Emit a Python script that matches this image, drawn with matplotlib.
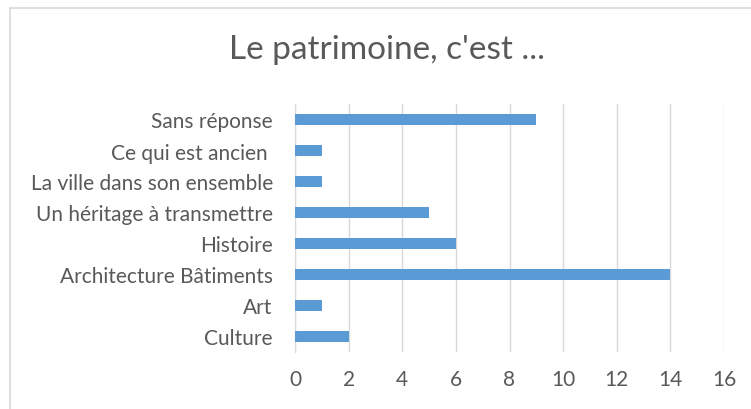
import matplotlib
matplotlib.use('Agg')
import matplotlib.pyplot as plt
from matplotlib.lines import Line2D

categories = ['Culture', 'Art', 'Architecture Bâtiments', 'Histoire',
              'Un héritage à transmettre', 'La ville dans son ensemble',
              'Ce qui est ancien ', 'Sans réponse']
values = [2, 1, 14, 6, 5, 1, 1, 9]
xticks = [0, 2, 4, 6, 8, 10, 12, 14, 16]

plt.rcParams['font.family'] = ['Lato', 'DejaVu Sans']
text_color = '#595959'

fig = plt.figure(figsize=(7.51, 4.10), dpi=100)
ax = fig.add_axes([295 / 751, 1 - 353 / 410, (724 - 295) / 751, (353 - 105) / 410])

ypos = list(range(len(categories)))
ax.barh(ypos, values, height=0.36, color='#5B9BD5', zorder=3)
ax.set_yticks(ypos)
ax.set_yticklabels(categories, fontsize=15, color=text_color)
ax.set_ylim(-0.5, len(categories) - 0.5)
ax.set_xlim(0, 16)
ax.set_xticks(xticks)
ax.set_xticklabels([str(t) for t in xticks], fontsize=15, color=text_color)
ax.grid(axis='x', color='#D9D9D9', linewidth=1, zorder=0)
for s in ['top', 'right', 'bottom']:
    ax.spines[s].set_visible(False)
ax.spines['left'].set_color('#D9D9D9')
ax.tick_params(axis='both', length=0)
ax.tick_params(axis='y', pad=16)
ax.tick_params(axis='x', pad=12)

fig.text(387 / 751, 1 - 50 / 410, "Le patrimoine, c'est ...", ha='center', va='center',
         fontsize=24, color=text_color)

# chart frame
fig.add_artist(Line2D([10 / 751, 10 / 751], [0, 1 - 9 / 410], transform=fig.transFigure,
                      color='#D9D9D9', linewidth=1.2))
fig.add_artist(Line2D([10 / 751, 1], [1 - 9 / 410, 1 - 9 / 410], transform=fig.transFigure,
                      color='#D9D9D9', linewidth=1.2))

fig.savefig('out.png', dpi=100)
